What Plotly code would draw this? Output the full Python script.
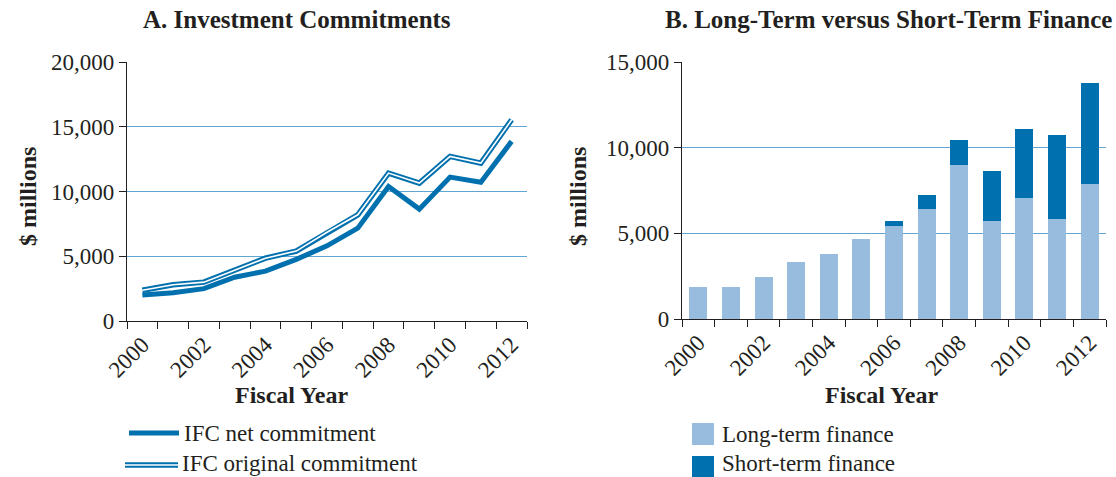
import plotly.graph_objects as go

years = list(range(2000, 2013))
tick_years = [2000, 2002, 2004, 2006, 2008, 2010, 2012]
tick_labels = [str(y) for y in tick_years]

net_commitment = [2000, 2180, 2500, 3380, 3850, 4760, 5800, 7170, 10390, 8640, 11110, 10720, 13870]
original_commitment = [2380, 2800, 3000, 3940, 4850, 5400, 6850, 8200, 11420, 10650, 12710, 12190, 15540]

long_term = [1880, 1880, 2470, 3320, 3790, 4660, 5420, 6410, 8990, 5710, 7050, 5830, 7880]
short_term = [0, 0, 0, 0, 0, 0, 290, 810, 1440, 2910, 4020, 4890, 5870]

W, H = 1116, 477
BLUE = "#0071AE"
LIGHT = "#98BCDE"
DARK = "#0071AE"
GRID = "#5FA6D2"
INK = "#231F20"
FONT = "Liberation Serif"


def px(x):
    return x / W


def py(y):
    return 1 - y / H


fig = go.Figure()

# Panel A lines
fig.add_trace(go.Scatter(x=years, y=original_commitment, mode="lines",
                         line=dict(color=BLUE, width=5.5), xaxis="x", yaxis="y",
                         showlegend=False, hoverinfo="skip"))
fig.add_trace(go.Scatter(x=years, y=original_commitment, mode="lines",
                         line=dict(color="white", width=1.6), xaxis="x", yaxis="y",
                         showlegend=False, name="IFC original commitment"))
fig.add_trace(go.Scatter(x=years, y=net_commitment, mode="lines",
                         line=dict(color=BLUE, width=5), xaxis="x", yaxis="y",
                         showlegend=False, name="IFC net commitment"))

# Panel B bars
fig.add_trace(go.Bar(x=years, y=long_term, marker=dict(color=LIGHT, line=dict(width=0)),
                     width=0.55, xaxis="x2", yaxis="y2", showlegend=False,
                     name="Long-term finance"))
fig.add_trace(go.Bar(x=years, y=short_term, marker=dict(color=DARK, line=dict(width=0)),
                     width=0.55, xaxis="x2", yaxis="y2", showlegend=False,
                     name="Short-term finance"))

tickfont = dict(family=FONT, size=23, color=INK)


def xaxis_cfg(domain):
    return dict(
        domain=domain, range=[1999.5, 2012.5], tickmode="array",
        tickvals=tick_years, ticktext=tick_labels, tickangle=-45,
        ticks="", showline=True, linecolor=INK, linewidth=1.3,
        showgrid=False, zeroline=False, tickfont=tickfont, automargin=False,
        minor=dict(ticks="outside", ticklen=7, tickwidth=1.3, tickcolor=INK,
                   tick0=1999.5, dtick=1, showgrid=False),
    )


def yaxis_cfg(rng, dtick, ydom):
    return dict(
        domain=ydom, range=rng, dtick=dtick, tickformat=",d",
        ticks="outside", ticklen=7, tickwidth=1.3, tickcolor=INK,
        showline=True, linecolor=INK, linewidth=1.3, automargin=False,
        showgrid=True, gridcolor=GRID, gridwidth=1.3, zeroline=False,
        tickfont=tickfont,
    )


xa = xaxis_cfg([px(127), px(527)])
xa["anchor"] = "y"
xb = xaxis_cfg([px(682), px(1106)])
xb["anchor"] = "y2"
ya = yaxis_cfg([0, 20000], 5000, [py(321), py(62)])
ya["anchor"] = "x"
yb = yaxis_cfg([0, 15000], 5000, [py(319), py(62)])
yb["anchor"] = "x2"

annotations = []
shapes = []


def text(x, y, s, size=23, bold=False, anchor="center", angle=0):
    annotations.append(dict(
        x=px(x), y=py(y), xref="paper", yref="paper", text=f"<b>{s}</b>" if bold else s,
        showarrow=False, xanchor=anchor, yanchor="middle", textangle=angle,
        font=dict(family=FONT, size=size, color=INK)))


text(297, 20, "A. Investment Commitments", size=25, bold=True)
text(888, 20, "B. Long-Term versus Short-Term Finance", size=25, bold=True)
text(28, 197, "$ millions", size=24, bold=True, angle=-90)
text(578, 196, "$ millions", size=24, bold=True, angle=-90)
text(291, 395, "Fiscal Year", size=24, bold=True)
text(881, 395, "Fiscal Year", size=24, bold=True)

# Legend A
shapes.append(dict(type="line", xref="paper", yref="paper", x0=px(129), x1=px(179),
                   y0=py(433), y1=py(433), line=dict(color=BLUE, width=5)))
shapes.append(dict(type="line", xref="paper", yref="paper", x0=px(125), x1=px(178),
                   y0=py(465), y1=py(465), line=dict(color=BLUE, width=5.5)))
shapes.append(dict(type="line", xref="paper", yref="paper", x0=px(125), x1=px(178),
                   y0=py(465), y1=py(465), line=dict(color="white", width=1.6)))
text(182, 433, "IFC net commitment", anchor="left")
text(180, 463, "IFC original commitment", anchor="left")

# Legend B
shapes.append(dict(type="rect", xref="paper", yref="paper", x0=px(692), x1=px(714),
                   y0=py(445), y1=py(423), fillcolor=LIGHT, line=dict(width=0)))
shapes.append(dict(type="rect", xref="paper", yref="paper", x0=px(692), x1=px(714),
                   y0=py(477), y1=py(456), fillcolor=DARK, line=dict(width=0)))
text(720, 434, "Long-term finance", anchor="left")
text(720, 463, "Short-term finance", anchor="left")

fig.update_layout(
    width=W, height=H, margin=dict(l=0, r=0, t=0, b=0),
    paper_bgcolor="white", plot_bgcolor="white",
    barmode="stack", showlegend=False,
    xaxis=xa, yaxis=ya, xaxis2=xb, yaxis2=yb,
    annotations=annotations, shapes=shapes,
    font=dict(family=FONT, color=INK),
)

fig.write_html(
    "out.html",
    config={"displayModeBar": False},
    post_script="document.body.style.margin='0';document.body.style.padding='0';"
                "document.documentElement.style.overflow='hidden';",
)
